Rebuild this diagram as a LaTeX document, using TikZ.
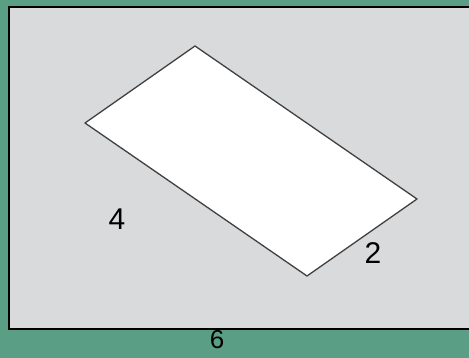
\documentclass[tikz,border=0pt]{standalone}
\usepackage{fontspec}
\setmainfont{Liberation Sans}
\definecolor{boardgreen}{HTML}{5B9E86}
\definecolor{sheetgray}{HTML}{D9DADC}
\tikzset{
  side/.style={font=\fontsize{30}{30}\selectfont, inner sep=0pt}
}
\begin{document}
\begin{tikzpicture}[x=1pt,y=-1pt]

    % фон
    \fill[boardgreen] (0,0) rectangle (469,358);
    \useasboundingbox (0,0) rectangle (469,358);

    % лист
    \fill[sheetgray] (9,7) rectangle (469,329);
    \draw[line width=2pt] (469,7) -- (9,7) -- (9,329) -- (469,329);

    % прямоугольник
    \coordinate (A) at (85,123);
    \coordinate (B) at (195,46);
    \coordinate (C) at (417,199);
    \coordinate (D) at (307,276);

    \draw[fill=white, draw=black!75, line width=1.3pt, line join=round] (A) -- (B) -- (C) -- (D) -- cycle;

    % размеры
    \node[side] (four) at (117,219) {4};
    \node[side] (two) at (373,253) {2};
    \node[side, font=\fontsize{26}{26}\selectfont] (six) at (217,340) {6};

  \end{tikzpicture}
\end{document}
